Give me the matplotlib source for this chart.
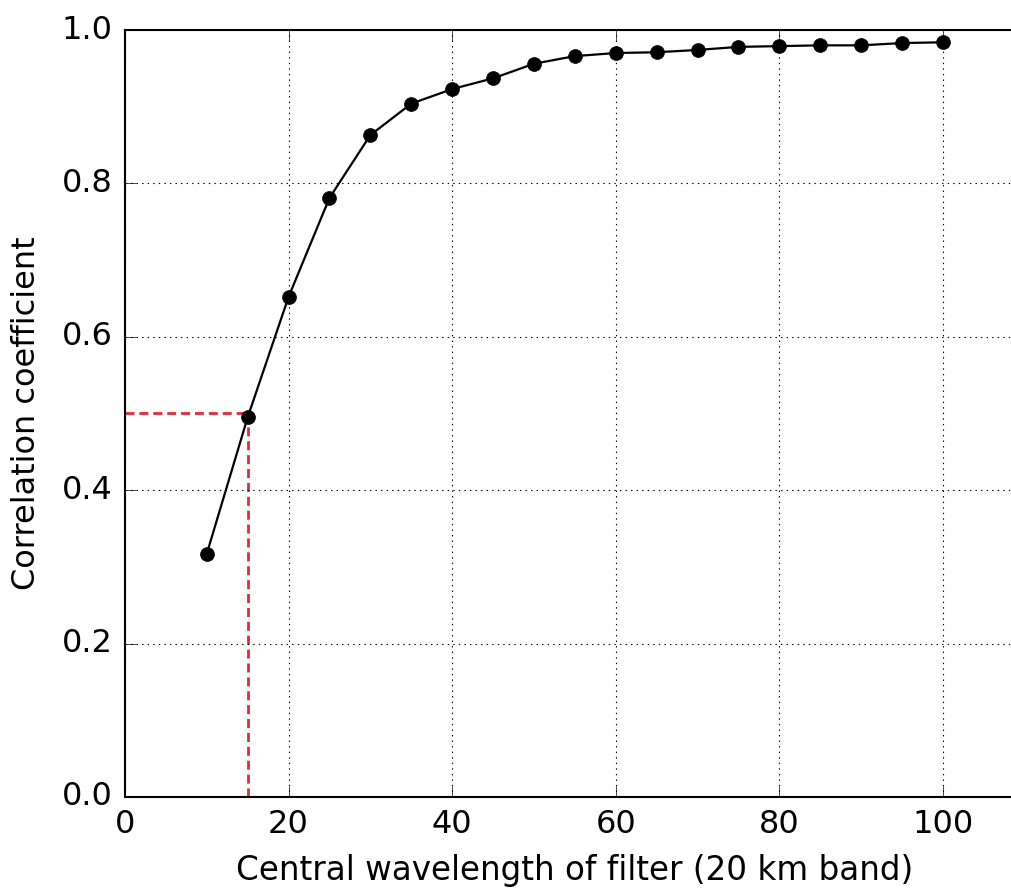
import matplotlib
matplotlib.use('Agg')
import matplotlib.pyplot as plt

wavelength = [10, 15, 20, 25, 30, 35, 40, 45, 50, 55, 60, 65, 70, 75, 80, 85, 90, 95, 100]
correlation = [0.317, 0.495, 0.652, 0.781, 0.863, 0.904, 0.923, 0.937, 0.956, 0.966,
               0.970, 0.971, 0.974, 0.978, 0.979, 0.980, 0.980, 0.983, 0.984]
threshold_x = 15
threshold_y = 0.5

plt.style.use('classic')
plt.rcParams['font.family'] = 'DejaVu Sans'

fig = plt.figure(figsize=(10.11, 8.88), dpi=100)
ax = fig.add_axes([0.1236, 0.1025, 0.89, 0.8637])

ax.plot(wavelength, correlation, color='k', linewidth=1.6, marker='o',
        markersize=10, markerfacecolor='k', markeredgecolor='k', zorder=3)

ax.plot([0, threshold_x], [threshold_y, threshold_y], color='#e8283a', linestyle='--',
        dashes=(6.5, 3.5), linewidth=2, zorder=2)
ax.plot([threshold_x, threshold_x], [0, threshold_y], color='#e8283a', linestyle='--',
        dashes=(6.5, 3.5), linewidth=2, zorder=2)

ax.set_xlim(0, 110)
ax.set_ylim(0, 1.0)
ax.set_xticks([0, 20, 40, 60, 80, 100])
ax.set_yticks([0.0, 0.2, 0.4, 0.6, 0.8, 1.0])
ax.grid(True, linestyle=':', color='k', linewidth=0.8)
ax.tick_params(labelsize=23, direction='in', length=8, pad=9)
for s in ax.spines.values():
    s.set_linewidth(1.5)

ax.set_xlabel('Central wavelength of filter (20 km band)', fontsize=23.5, labelpad=10)
ax.set_ylabel('Correlation coefficient', fontsize=23, labelpad=14)

fig.savefig('out.png', dpi=100)
